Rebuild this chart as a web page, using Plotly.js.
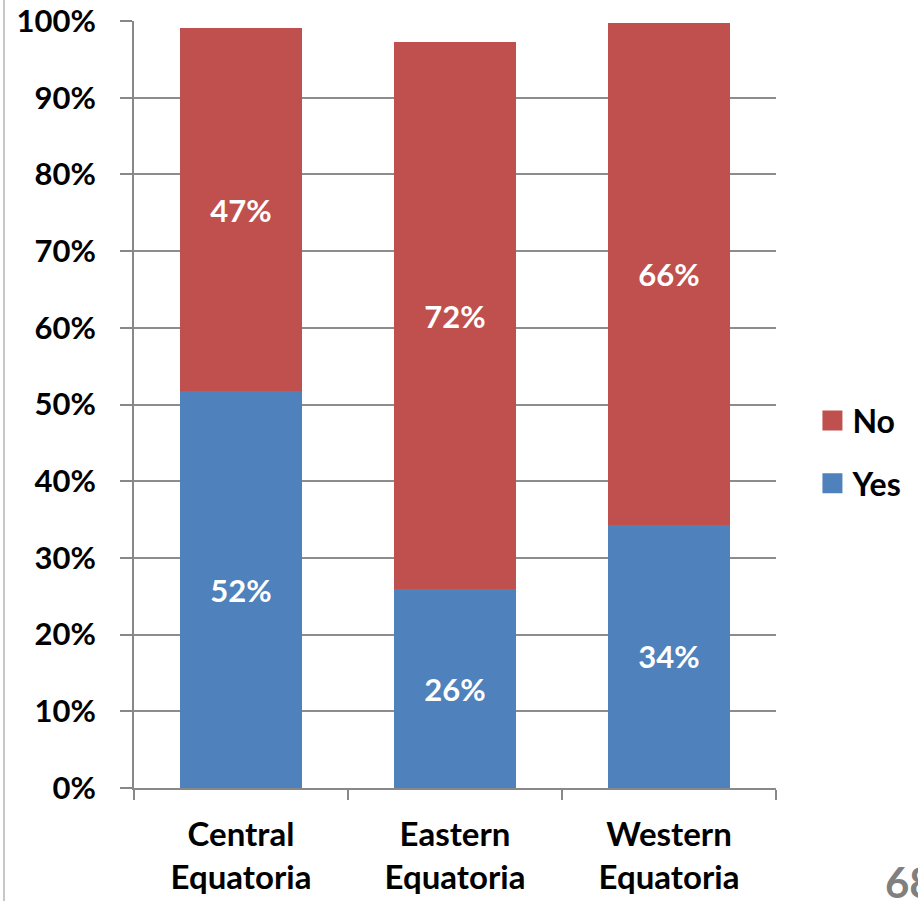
<!DOCTYPE html>
<html>
<head>
<meta charset="utf-8">
<script src="https://cdn.plot.ly/plotly-3.0.1.min.js"></script>
<style>html,body{margin:0;padding:0;background:#fff;}#chart{width:918px;height:901px;}</style>
</head>
<body>
<div id="chart"></div>
<script>
const categories = ["Central<br>Equatoria", "Eastern<br>Equatoria", "Western<br>Equatoria"];
const yesValues = [51.7, 25.9, 34.3];
const noValues = [47.4, 71.4, 65.4];
const yesLabels = ["52%", "26%", "34%"];
const noLabels = ["47%", "72%", "66%"];
const yTickVals = [0, 10, 20, 30, 40, 50, 60, 70, 80, 90, 100];
const yTickLabels = ["0%", "10%", "20%", "30%", "40%", "50%", "60%", "70%", "80%", "90%", "100%"];

const FONT = "Lato, 'Open Sans', sans-serif";
const labelFont = {family: FONT, size: 31, color: "#ffffff", weight: "bold"};

const traces = [
  {
    type: "bar", name: "Yes", x: categories, y: yesValues,
    text: yesLabels, textposition: "inside", insidetextanchor: "middle",
    textfont: labelFont, marker: {color: "#4F81BD", line: {width: 0}},
    legendgroup: "yes", legendrank: 2, hoverinfo: "skip"
  },
  {
    type: "bar", name: "No", x: categories, y: noValues,
    text: noLabels, textposition: "inside", insidetextanchor: "middle",
    textfont: labelFont, marker: {color: "#C0504D", line: {width: 0}},
    legendgroup: "no", legendrank: 1, hoverinfo: "skip"
  }
];

const layout = {
  width: 918, height: 901,
  margin: {l: 134, r: 142, t: 21, b: 113, pad: 0},
  paper_bgcolor: "#ffffff", plot_bgcolor: "#ffffff",
  barmode: "stack", bargap: 0.43,
  font: {family: FONT, size: 31, color: "#000000", weight: "bold"},
  showlegend: true,
  legend: {
    xref: "container", yref: "container",
    x: 0.885, xanchor: "left", y: 0.498, yanchor: "middle",
    traceorder: "grouped", tracegroupgap: 18,
    font: {family: FONT, size: 32, color: "#000000", weight: "bold"},
    itemwidth: 30, bgcolor: "rgba(0,0,0,0)"
  },
  xaxis: {
    type: "category", showgrid: false, showline: true, linecolor: "#888888", linewidth: 2,
    ticks: "outside", tickson: "boundaries", ticklen: 10, tickcolor: "#888888", tickwidth: 2,
    tickfont: {family: FONT, size: 33, color: "#000000", weight: "bold"},
    ticklabelstandoff: 16, fixedrange: true
  },
  yaxis: {
    range: [0, 100], tickvals: yTickVals, ticktext: yTickLabels,
    showgrid: true, gridcolor: "#8c8c8c", gridwidth: 2,
    showline: true, linecolor: "#888888", linewidth: 2,
    ticks: "outside", ticklen: 12, tickcolor: "#888888", tickwidth: 2,
    tickfont: {family: FONT, size: 31, color: "#000000", weight: "bold"},
    ticklabelstandoff: 18, zeroline: false, fixedrange: true
  },
  shapes: [
    {type: "line", xref: "paper", yref: "paper", x0: -0.2025, x1: -0.2025, y0: -0.16, y1: 1.05,
     line: {color: "#c8c8c8", width: 2}}
  ],
  annotations: [
    {xref: "paper", yref: "paper", x: 1.166, y: -0.123, xanchor: "left", yanchor: "middle",
     text: "68", showarrow: false,
     font: {family: FONT, size: 42, color: "#808080", weight: "bold"}}
  ]
};

function enlargeLegendSymbols() {
  document.querySelectorAll("#chart .legend .legendpoints path").forEach(function (p) {
    p.setAttribute("d", "M10,10H-10V-10H10Z");
  });
}

Plotly.newPlot("chart", traces, layout, {displayModeBar: false, staticPlot: true}).then(function (gd) {
  enlargeLegendSymbols();
  gd.on("plotly_afterplot", enlargeLegendSymbols);
});
</script>
</body>
</html>
